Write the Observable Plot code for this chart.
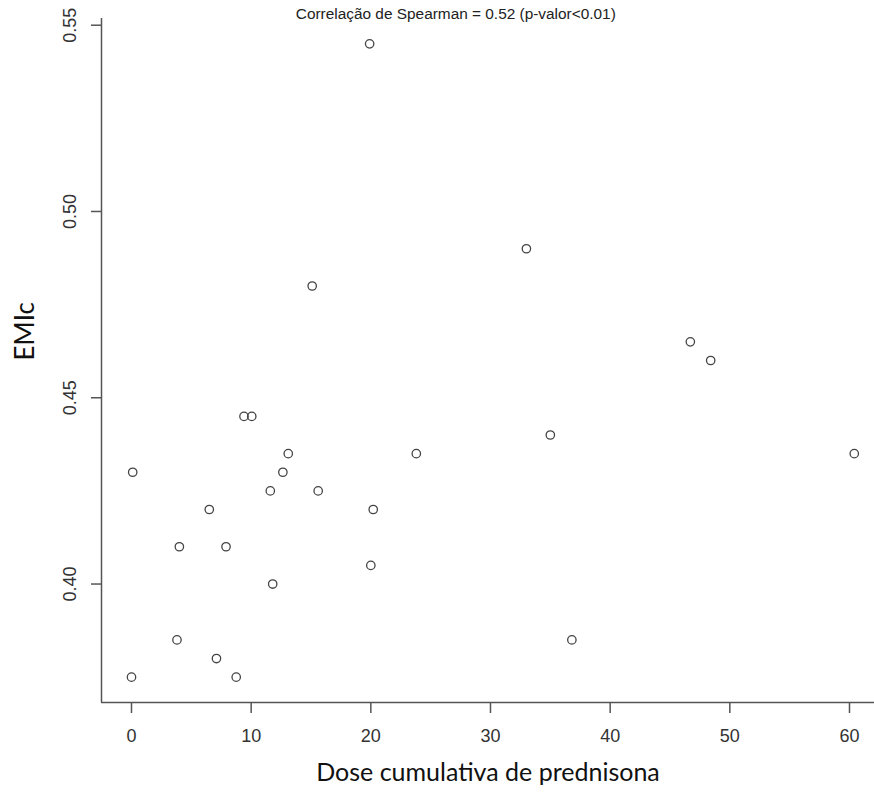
<!DOCTYPE html>
<html>
<head>
<meta charset="utf-8">
<script src="https://cdn.jsdelivr.net/npm/d3@7"></script>
<script src="https://cdn.jsdelivr.net/npm/@observablehq/plot@0.6"></script>
<style>
  html, body { margin: 0; padding: 0; background: #fff; }
  #chart svg { display: block; }
</style>
</head>
<body>
<div id="chart"></div>
<script>
// Data
const dose = [0.1, 0.0, 3.8, 4.0, 6.5, 7.1, 7.9, 8.75, 9.4, 10.05, 11.6, 11.8, 12.65, 13.1, 15.1, 15.6, 19.9, 20.0, 20.2, 23.8, 33.0, 35.0, 36.8, 46.7, 48.4, 60.4];
const emic = [0.430, 0.375, 0.385, 0.410, 0.420, 0.380, 0.410, 0.375, 0.445, 0.445, 0.425, 0.400, 0.430, 0.435, 0.480, 0.425, 0.545, 0.405, 0.420, 0.435, 0.490, 0.440, 0.385, 0.465, 0.460, 0.435];
const xTicks = [0, 10, 20, 30, 40, 50, 60];
const yTicks = [0.40, 0.45, 0.50, 0.55];
const xLabel = "Dose cumulativa de prednisona";
const yLabel = "EMIc";
const note = "Correlação de Spearman = 0.52 (p-valor<0.01)";

const points = dose.map((d, i) => ({dose: d, emic: emic[i]}));
const xDomain = [-2.507, 62.09];
const yDomain = [0.3682, 0.5518];
const axisColor = "#555";
const textColor = "#333";

const chart = Plot.plot({
  width: 874,
  height: 799,
  marginLeft: 101,
  marginRight: 0,
  marginTop: 18,
  marginBottom: 97,
  style: {fontFamily: "'Liberation Sans', Arial, sans-serif", background: "#fff", color: textColor},
  x: {domain: xDomain, axis: null},
  y: {domain: yDomain, axis: null},
  marks: [
    Plot.ruleX([xDomain[0]], {stroke: axisColor, strokeWidth: 1.5}),
    Plot.ruleY([yDomain[0]], {stroke: axisColor, strokeWidth: 1.5}),
    Plot.axisX(xTicks, {anchor: "bottom", tickSize: 11, tickPadding: 16, fontSize: 18, stroke: axisColor, strokeWidth: 1.5, fill: textColor, tickFormat: d => String(d), label: null}),
    Plot.axisY(yTicks, {anchor: "left", tickSize: 10, tickPadding: 16, tickRotate: -90, fontSize: 18, stroke: axisColor, strokeWidth: 1.5, fill: textColor, tickFormat: d => d.toFixed(2), label: null}),
    Plot.dot(points, {x: "dose", y: "emic", r: 4.2, stroke: "#444", strokeWidth: 1.3, fill: "none"}),
    Plot.text([note], {x: 27.1, y: yDomain[1], dy: -4, text: d => d, fontSize: 15.4, fill: "#222", textAnchor: "middle"}),
    Plot.text([xLabel], {frameAnchor: "bottom", dy: 78, text: d => d, fontSize: 25, fontFamily: "Lato, 'Open Sans', sans-serif", fill: "#111"}),
    Plot.text([yLabel], {frameAnchor: "left", dx: -76, rotate: -90, text: d => d, fontSize: 26, fontFamily: "Lato, 'Open Sans', sans-serif", fill: "#111"})
  ]
});
document.getElementById("chart").appendChild(chart);
</script>
</body>
</html>
